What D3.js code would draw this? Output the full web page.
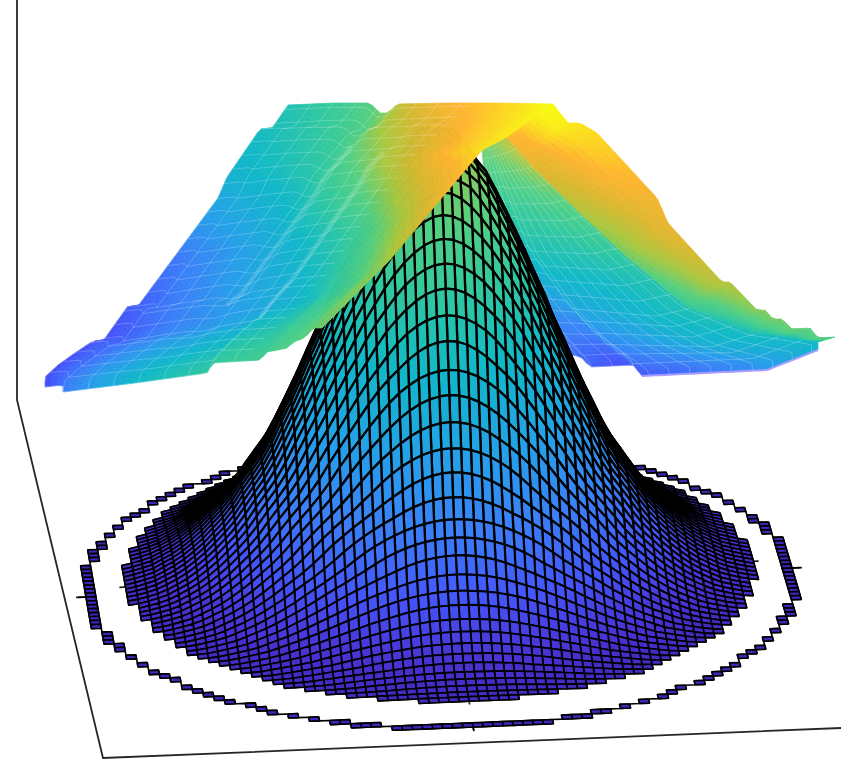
<!DOCTYPE html>
<html>
<head>
<meta charset="utf-8">
<script src="https://cdn.jsdelivr.net/npm/d3@7"></script>
<style>
  html, body { margin: 0; padding: 0; background: #fff; }
  svg { display: block; }
</style>
</head>
<body>
<div id="chart"></div>
<script>
// bell height read per grid radius off the front column of the mesh
const bellRadius = d3.range(0, 37);
const bellHeight = [109, 108, 106, 103, 99, 96.2, 91.6, 86.8, 81.8, 76.7, 71.2, 66, 60, 54.9, 49.4, 44.1, 39.3,
    34.3, 30, 26.6, 23.3, 19.7, 16.8, 14.4, 12, 10, 8.2, 6.7, 5.5, 4.3, 3.6, 3, 2.5, 2.3, 2.2, 2.1, 2.1];
const bellCenter = [0, 2];
const ringHeight = 0;
const discEdge = 32.5, ringInner = 35, ringOuter = 37, ringStep = 36, gridMax = 37;

const tickRadii = [31.6, 35.8];
const tickHeights = [2, 0];
const tickAngles = [180, 0, 270];

// colormap
const colorValues = [0, 5, 15, 28, 42, 60, 75, 90, 105, 120, 135, 150];
const colorStops = ["#3d26b8", "#4a30d0", "#4455fa", "#3a80f8", "#25a0e8", "#10b8c8",
    "#30c8a0", "#55d080", "#a8c840", "#d8b830", "#ffb530", "#f8fa10"];

// left wing of the upper sheet
const wingOuterX = [-40.5, -40.5, -39.2, -37.5, -35.7, -34.7, -32.2, -31.2, -23.2, -22.3, -19, -17.8, -16.2];
const wingOuterZ = [42.6, 44.6, 47, 49.4, 51.8, 51.8, 58.8, 58.8, 80.4, 84.6, 94.2, 94.4, 99];
const wingLowX = [-40.5, -38.7, -38.7, -31.5, -24.3, -23.7, -19, -18.3, -16.2, -15.7, -14.5, -13.8, -12.8];
const wingLowZ = [42.6, 43, 41.6, 43.4, 45.4, 47.4, 48, 49.6, 50.4, 51.6, 52.4, 54.4, 54.4];
const wingInnerX = [-12.8, -10.7, -6, -1, 3.2, 5.7, 10.3];
const wingInnerZ = [54.4, 58.6, 68, 80, 90, 92.6, 99.2];
const wingTopX = [-16.2, -11.5, -8, -7, -6.2, -5.3, 0, 5, 10.3];
const wingTopZ = [99, 99.4, 99.4, 97.4, 97.4, 99.2, 99.4, 99.4, 99.2];
const wingColor = [
    [12, 40, 62, 72, 78, 85, 95],
    [14, 24, 34, 44, 55, 78, 100],
    [25, 35, 48, 60, 75, 98, 125],
    [55, 62, 72, 90, 112, 135, 145],
    [68, 78, 92, 122, 136, 142, 150]
];
// lighter streaks along the wing: across position, start and end along it
const wingStreakU = [0.38, 0.56];
const wingStreakFrom = [0.3, 0.22];
const wingStreakTo = [0.86, 0.8];

// right sheet, opaque part
const slopeOuterX = [38.5, 36.8, 36, 34.2, 33.2, 32.3, 31.5, 30.7, 28, 27.2, 21.8, 20.7, 14.7, 13, 11.8, 10.3];
const slopeOuterZ = [52.6, 52.4, 54.4, 54.2, 56.2, 56.2, 58, 58, 63.6, 63.6, 75.4, 80.4, 93.4, 95.4, 95.4, 99.2];
const slopeInnerX = [36.8, 30.3, 23.7, 17.7, 12.7, 8.3, 5.7];
const slopeInnerZ = [51.6, 53.4, 58.6, 68.6, 78, 86.6, 92.6];
const slopeLowX = [36.8, 38.5];
const slopeLowZ = [51.6, 52.6];
const slopeTopX = [5.7, 10.3];
const slopeTopZ = [92.6, 99.2];
const slopeColor = [
    [60, 75, 85, 85, 88],
    [68, 78, 88, 95, 100],
    [90, 100, 108, 118, 124],
    [108, 118, 128, 135, 138],
    [135, 138, 145, 150, 150]
];

// right sheet, part under the ridge
const underLeftX = [10.5, 7.5, 4, 3.2];
const underLeftZ = [49, 58, 72, 90];
const underLowX = [10.5, 11.8, 13, 14, 18.3, 19.2, 31.7, 36.8];
const underLowZ = [49, 49, 48.8, 46.6, 47, 44.8, 46, 50];
const underRightX = [36.8, 36.8, 30.3, 23.7, 17.7, 12.7, 8.3, 5.7];
const underRightZ = [50, 51.6, 53.4, 58.6, 68.6, 78, 86.6, 92.6];
const underTopX = [3.2, 5.7];
const underTopZ = [90, 92.6];
const underColor = [
    [25, 14, 22, 35, 60],
    [30, 32, 42, 55, 65],
    [58, 58, 60, 62, 70],
    [75, 76, 78, 82, 88],
    [95, 95, 100, 105, 115]
];
// pale rim under the right sheet
const underRimX = [19.2, 31.7, 36.8];
const underRimZ = [44.8, 46, 50];

const width = 841, height = 772;

const svg = d3.select("#chart").append("svg")
    .attr("width", width)
    .attr("height", height);

const color = d3.scaleLinear().domain(colorValues).range(colorStops).clamp(true);
const heightAt = d3.scaleLinear().domain(bellRadius).range(bellHeight).clamp(true);
const lineWidth = d3.scaleLinear().domain([0, 30]).range([1.6, 2.3]).clamp(true);

// camera: floor homography from where the ring crosses the axes
const ringFront = [473, 727], ringRight = [792, 568], ringBack = [407, 445], ringLeft = [86, 597];
const zPixels = 4.17;
const H = (function () {
    const [x0, y0] = ringFront, [x1, y1] = ringRight, [x2, y2] = ringBack, [x3, y3] = ringLeft;
    const dx1 = x1 - x2, dx2 = x3 - x2, sx = x0 - x1 + x2 - x3;
    const dy1 = y1 - y2, dy2 = y3 - y2, sy = y0 - y1 + y2 - y3;
    const den = dx1 * dy2 - dx2 * dy1;
    const g = (sx * dy2 - dx2 * sy) / den, h = (dx1 * sy - sx * dy1) / den;
    return { a: x1 - x0 + g * x1, b: x3 - x0 + h * x3, c: x0,
        d: y1 - y0 + g * y1, e: y3 - y0 + h * y3, f: y0, g: g, h: h };
})();
const wCenter = (H.g + H.h) / 2 + 1;

function depth(x, y) {
    const u = (x / ringStep + y / ringStep + 1) / 2, v = (y / ringStep - x / ringStep + 1) / 2;
    return H.g * u + H.h * v + 1;
}

function project(x, y, z) {
    const u = (x / ringStep + y / ringStep + 1) / 2, v = (y / ringStep - x / ringStep + 1) / 2;
    const w = H.g * u + H.h * v + 1;
    return [(H.a * u + H.b * v + H.c) / w,
        (H.d * u + H.e * v + H.f) / w - z * zPixels * wCenter / w];
}

// axes frame
const frameX = [17, 17, 103, 841];
const frameY = [0, 400, 758, 728];
const axisLine = d3.line();
svg.append("path").attr("class", "axes")
    .attr("d", axisLine(frameX.map((x, i) => [x, frameY[i]])))
    .attr("fill", "none").attr("stroke", "#262626").attr("stroke-width", 1.8);

// the sheets are read in front view coordinates
const roofX = d3.scaleLinear().domain([-45, 39.1]).range([0, 841]);
const roofZ = d3.scaleLinear().domain([0, 120]).range([600, 0]);

function rail(xs, zs) {
    const pts = xs.map((x, i) => [roofX(x), roofZ(zs[i])]);
    const dist = [0];
    for (let i = 1; i < pts.length; i++) {
        dist.push(dist[i - 1] + Math.hypot(pts[i][0] - pts[i - 1][0], pts[i][1] - pts[i - 1][1]));
    }
    const t = dist.map(d => d / dist[dist.length - 1]);
    const px = d3.scaleLinear().domain(t).range(pts.map(p => p[0]));
    const py = d3.scaleLinear().domain(t).range(pts.map(p => p[1]));
    return s => [px(s), py(s)];
}

function colorLookup(table) {
    const vPos = table.map((d, i) => i / (table.length - 1));
    const uPos = table[0].map((d, i) => i / (table[0].length - 1));
    return function (u, v) {
        const across = table.map(row => d3.scaleLinear().domain(uPos).range(row)(u));
        return d3.scaleLinear().domain(vPos).range(across)(v);
    };
}

function drawSheet(opts) {
    const left = opts.left, right = opts.right, low = opts.low, top = opts.top;
    const p00 = low(0), p10 = low(1), p01 = top(0), p11 = top(1);
    const at = function (u, v) {
        const l = left(v), r = right(v), b = low(u), t = top(u);
        return [0, 1].map(k =>
            (1 - v) * b[k] + v * t[k] + (1 - u) * l[k] + u * r[k]
            - ((1 - u) * (1 - v) * p00[k] + u * (1 - v) * p10[k] + (1 - u) * v * p01[k] + u * v * p11[k]));
    };
    const lookup = colorLookup(opts.colors);
    const nu = opts.nu, nv = opts.nv;
    const quads = [];
    for (let i = 0; i < nu; i++) {
        for (let j = 0; j < nv; j++) {
            quads.push({
                pts: [at(i / nu, j / nv), at((i + 1) / nu, j / nv), at((i + 1) / nu, (j + 1) / nv), at(i / nu, (j + 1) / nv)],
                c: color(lookup((i + .5) / nu, (j + .5) / nv))
            });
        }
    }
    const g = svg.append("g").attr("class", opts.name);
    g.selectAll("path").data(quads).enter().append("path")
        .attr("d", d => axisLine(d.pts) + "Z")
        .attr("fill", d => d.c)
        .attr("stroke", d => d.c)
        .attr("stroke-width", 0.7);

    // faint mesh lines on the sheet
    if (opts.meshU) {
        const lines = [];
        for (let i = 0; i <= nu * opts.meshMax; i += opts.meshU) {
            for (let j = 0; j < nv; j += 1) {
                lines.push([at(i / nu, j / nv), at(i / nu, (j + 1) / nv)]);
            }
        }
        for (let j = 0; j <= nv; j += opts.meshV) {
            for (let i = 0; i < nu * opts.meshMax; i += 1) {
                lines.push([at(i / nu, j / nv), at((i + 1) / nu, j / nv)]);
            }
        }
        g.append("path")
            .attr("d", lines.map(l => axisLine(l)).join(""))
            .attr("fill", "none")
            .attr("stroke", "#fff")
            .attr("stroke-opacity", opts.meshOpacity)
            .attr("stroke-width", 0.8);
    }
    if (opts.streaks) {
        g.selectAll("path.streak").data(opts.streaks).enter().append("path")
            .attr("class", "streak")
            .attr("d", d => axisLine(d3.range(0, 11).map(k => at(d[0], d[1] + (d[2] - d[1]) * k / 10))))
            .attr("fill", "none")
            .attr("stroke", "#fff")
            .attr("stroke-opacity", 0.17)
            .attr("stroke-width", 4);
    }
}

drawSheet({
    name: "under", nu: 40, nv: 50, colors: underColor,
    left: rail(underLeftX, underLeftZ), right: rail(underRightX, underRightZ),
    low: rail(underLowX, underLowZ), top: rail(underTopX, underTopZ),
    meshU: 3, meshV: 3, meshMax: 1, meshOpacity: 0.28
});
const underRim = rail(underRimX, underRimZ);
svg.append("path").attr("class", "rim")
    .attr("d", axisLine(d3.range(0, 41).map(k => underRim(k / 40))))
    .attr("fill", "none")
    .attr("stroke", "#a79cff")
    .attr("stroke-width", 2);

// ticks sit on the axes through the ring centre
const ticks = [];
tickRadii.forEach((r, k) => tickAngles.forEach(a => {
    const c = Math.cos(a * Math.PI / 180), s = Math.sin(a * Math.PI / 180);
    ticks.push([project(r * c, r * s, tickHeights[k]), project((r + 1) * c, (r + 1) * s, tickHeights[k])]);
}));

// bell and ring mesh, a vertex is missing outside the disc and the ring
function valid(x, y) {
    const r = Math.hypot(x, y);
    return r <= discEdge || (r >= ringInner && r <= ringOuter);
}
function zAt(x, y) {
    if (Math.hypot(x, y) > discEdge) return ringHeight;
    return heightAt(Math.hypot(x - bellCenter[0], y - bellCenter[1]));
}

const grid = d3.range(-gridMax, gridMax + 1);
const cells = [], edges = [];
grid.forEach(x => grid.forEach(y => {
    if (x < gridMax && y < gridMax && valid(x, y) && valid(x + 1, y) && valid(x + 1, y + 1) && valid(x, y + 1)) {
        const corners = [[x, y], [x + 1, y], [x + 1, y + 1], [x, y + 1]];
        cells.push({
            depth: depth(x + .5, y + .5),
            z: d3.mean(corners, c => zAt(c[0], c[1])),
            pts: corners.map(c => project(c[0], c[1], zAt(c[0], c[1])))
        });
    }
    if (x < gridMax && valid(x, y) && valid(x + 1, y)) {
        edges.push([project(x, y, zAt(x, y)), project(x + 1, y, zAt(x + 1, y))]);
    }
    if (y < gridMax && valid(x, y) && valid(x, y + 1)) {
        edges.push([project(x, y, zAt(x, y)), project(x, y + 1, zAt(x, y + 1))]);
    }
}));
cells.sort((a, b) => d3.descending(a.depth, b.depth));

const surface = svg.append("g").attr("class", "surface");
surface.selectAll("path.tick").data(ticks).enter().append("path")
    .attr("class", "tick")
    .attr("d", d => axisLine(d))
    .attr("stroke", "#262626")
    .attr("stroke-width", 1.7);
// lines of the mesh where a cell has no fill
surface.append("path")
    .attr("d", edges.map(e => axisLine(e)).join(""))
    .attr("fill", "none")
    .attr("stroke", "#000")
    .attr("stroke-width", 1.6);
surface.selectAll("path.cell").data(cells).enter().append("path")
    .attr("class", "cell")
    .attr("d", d => axisLine(d.pts) + "Z")
    .attr("fill", d => color(d.z))
    .attr("stroke", "#000")
    .attr("stroke-width", d => lineWidth(d.z))
    .attr("stroke-linejoin", "round");

drawSheet({
    name: "slope", nu: 10, nv: 80, colors: slopeColor,
    left: rail(slopeInnerX, slopeInnerZ), right: rail(slopeOuterX, slopeOuterZ),
    low: rail(slopeLowX, slopeLowZ), top: rail(slopeTopX, slopeTopZ)
});
drawSheet({
    name: "wing", nu: 48, nv: 70, colors: wingColor,
    left: rail(wingOuterX, wingOuterZ), right: rail(wingInnerX, wingInnerZ),
    low: rail(wingLowX, wingLowZ), top: rail(wingTopX, wingTopZ),
    meshU: 4, meshV: 3, meshMax: 0.7, meshOpacity: 0.26,
    streaks: wingStreakU.map((u, i) => [u, wingStreakFrom[i], wingStreakTo[i]])
});
</script>
</body>
</html>
